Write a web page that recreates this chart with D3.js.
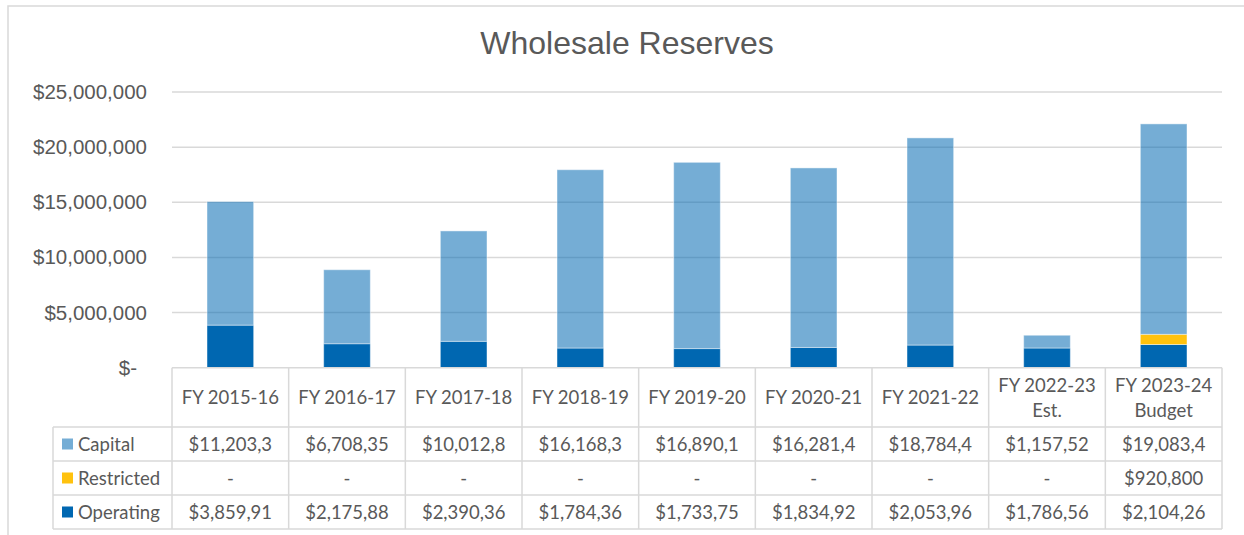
<!DOCTYPE html>
<html>
<head>
<meta charset="utf-8">
<script src="https://cdn.jsdelivr.net/npm/d3@7"></script>
<style>
  html, body { margin: 0; padding: 0; background: #fff; }
  svg { display: block; }
</style>
</head>
<body>
<svg id="chart" width="1244" height="535"></svg>
<script>
// ---- data ----
const categories = ["FY 2015-16", "FY 2016-17", "FY 2017-18", "FY 2018-19", "FY 2019-20",
  "FY 2020-21", "FY 2021-22", "FY 2022-23\nEst.", "FY 2023-24\nBudget"];
const seriesNames = ["Operating", "Restricted", "Capital"];
const operating = [3859910, 2175880, 2390360, 1784360, 1733750, 1834920, 2053960, 1786560, 2104260];
const restricted = [0, 0, 0, 0, 0, 0, 0, 0, 920800];
const capital = [11203300, 6708350, 10012800, 16168300, 16890100, 16281400, 18784400, 1157520, 19083400];
const yTicks = [0, 5000000, 10000000, 15000000, 20000000, 25000000];
const tableRows = ["Capital", "Restricted", "Operating"];
const title = "Wholesale Reserves";

const colors = { Operating: "#0067B1", Restricted: "#FFC20E", Capital: "#0067B1" };
const opac = { Operating: 1, Restricted: 1, Capital: 0.54 };

const svg = d3.select("#chart");
const W = 1244, H = 535;
const plotL = 172, plotR = 1222, plotT = 92, plotB = 367.7;
const gridColor = "#D9D9D9";
const textColor = "#595959";

// outer chart border
svg.append("rect").attr("x", 8).attr("y", 6).attr("width", 1260).attr("height", 560)
  .attr("fill", "none").attr("stroke", gridColor).attr("stroke-width", 1.5);

// title
svg.append("text").attr("x", 627).attr("y", 54).attr("text-anchor", "middle")
  .attr("font-family", "Liberation Sans, Arial, sans-serif").attr("font-size", 32)
  .attr("fill", textColor).text(title);

// scales
const x = d3.scaleBand().domain(categories).range([plotL, plotR]).paddingInner(0.6).paddingOuter(0.3);
const xCol = d3.scaleBand().domain(categories).range([plotL, plotR]).padding(0);
const y = d3.scaleLinear().domain([0, 25000000]).range([plotB, plotT]);

// gridlines
svg.append("g").selectAll("line").data(yTicks.filter(d => d > 0)).join("line")
  .attr("x1", plotL).attr("x2", plotR)
  .attr("y1", d => y(d)).attr("y2", d => y(d))
  .attr("stroke", gridColor).attr("stroke-width", 1.5);

// y axis labels
const fmt = d3.format(",");
const yAxis = d3.axisLeft(y).tickValues(yTicks).tickSize(0).tickPadding(25)
  .tickFormat(d => d === 0 ? "$-" : "$" + fmt(d));
const gy = svg.append("g").attr("transform", `translate(${plotL},0)`).call(yAxis);
gy.select(".domain").remove();
gy.selectAll("text").attr("font-family", "Liberation Sans, Arial, sans-serif")
  .attr("font-size", 20.5).attr("fill", textColor)
  .attr("dx", d => d === 0 ? -10 : 0);

// stacked bars
const rows = categories.map((c, i) => ({ cat: c, Operating: operating[i], Restricted: restricted[i], Capital: capital[i] }));
const stack = d3.stack().keys(seriesNames)(rows);
svg.append("g").selectAll("g").data(stack).join("g")
  .attr("fill", d => colors[d.key]).attr("fill-opacity", d => opac[d.key])
  .selectAll("rect").data(d => d).join("rect")
  .attr("x", d => x(d.data.cat)).attr("width", x.bandwidth())
  .attr("y", d => y(d[1])).attr("height", d => Math.max(0, y(d[0]) - y(d[1])))
  .attr("stroke", "#fff").attr("stroke-opacity", 0.45).attr("stroke-width", 1);

// data table
const headerTop = plotB, headerBot = 427, rowH = 34;
const legendL = 53;
const tbl = svg.append("g");
const tFont = "Lato, 'Open Sans', sans-serif";
const tSize = 18.5;

// horizontal lines
tbl.append("line").attr("x1", plotL).attr("x2", plotR).attr("y1", headerTop).attr("y2", headerTop)
  .attr("stroke", gridColor).attr("stroke-width", 1.5);
for (let r = 0; r <= tableRows.length; r++) {
  const yy = headerBot + r * rowH;
  tbl.append("line").attr("x1", legendL).attr("x2", plotR).attr("y1", yy).attr("y2", yy)
    .attr("stroke", gridColor).attr("stroke-width", 1.5);
}
// vertical lines
const colEdges = categories.map(c => xCol(c)).concat([plotR]);
tbl.selectAll("line.v").data(colEdges).join("line").attr("class", "v")
  .attr("x1", d => d).attr("x2", d => d)
  .attr("y1", headerTop).attr("y2", headerBot + tableRows.length * rowH)
  .attr("stroke", gridColor).attr("stroke-width", 1.5);
tbl.append("line").attr("x1", legendL).attr("x2", legendL)
  .attr("y1", headerBot).attr("y2", headerBot + tableRows.length * rowH)
  .attr("stroke", gridColor).attr("stroke-width", 1.5);

// header labels
categories.forEach(c => {
  const lines = c.split("\n");
  const cx = xCol(c) + xCol.bandwidth() / 2;
  const mid = (headerTop + headerBot) / 2;
  const lh = 25;
  lines.forEach((ln, k) => {
    tbl.append("text").attr("x", cx)
      .attr("y", mid + (k - (lines.length - 1) / 2) * lh)
      .attr("dy", "0.36em").attr("text-anchor", "middle")
      .attr("font-family", tFont).attr("font-size", tSize).attr("fill", textColor).text(ln);
  });
});

// rows
const rowData = { Capital: capital, Restricted: restricted, Operating: operating };
tableRows.forEach((name, r) => {
  const cy = headerBot + r * rowH + rowH / 2;
  tbl.append("rect").attr("x", 62).attr("y", cy - 5.5).attr("width", 11).attr("height", 11)
    .attr("fill", colors[name]).attr("fill-opacity", opac[name]);
  tbl.append("text").attr("x", 78).attr("y", cy).attr("dy", "0.36em")
    .attr("font-family", tFont).attr("font-size", tSize).attr("fill", textColor).text(name);
  rowData[name].forEach((v, i) => {
    const c = categories[i];
    const s = v === 0 ? "-" : ("$" + fmt(v)).slice(0, 9);
    tbl.append("text").attr("x", xCol(c) + xCol.bandwidth() / 2).attr("y", cy).attr("dy", "0.36em")
      .attr("text-anchor", "middle")
      .attr("font-family", tFont).attr("font-size", tSize).attr("fill", textColor).text(s);
  });
});
</script>
</body>
</html>
